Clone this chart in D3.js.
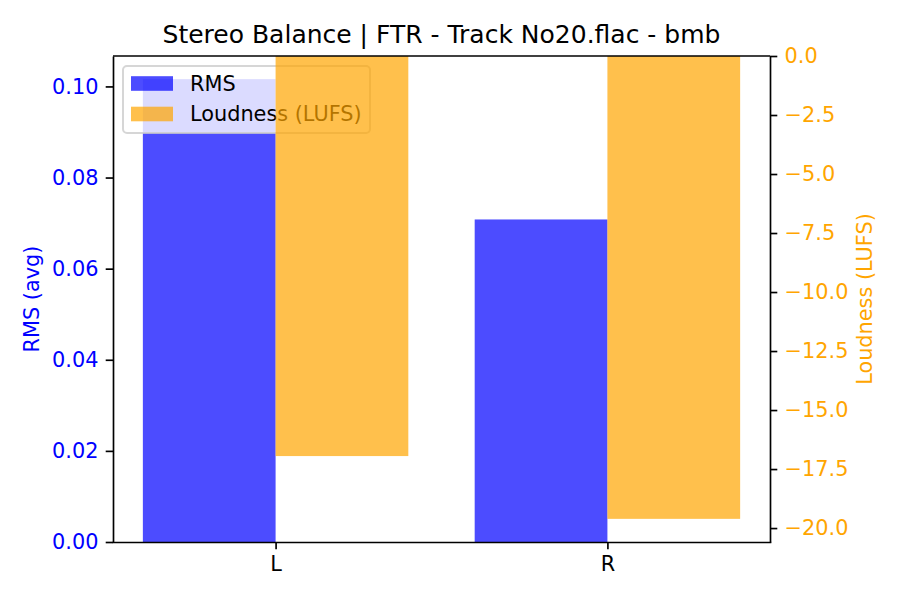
<!DOCTYPE html>
<html>
<head>
<meta charset="utf-8">
<script src="https://cdn.jsdelivr.net/npm/d3@7"></script>
<style>
  body { margin: 0; background: #fff; }
  text { font-family: "DejaVu Sans", sans-serif; }
  .axis path, .axis line { stroke: #000; stroke-width: 1.67px; }
</style>
</head>
<body>
<div id="chart"></div>
<script>
// data
var channels = ["L", "R"];
var rmsValues = [0.1016, 0.0708];
var lufsValues = [-16.95, -19.61];
var rmsTicks = [0, 0.02, 0.04, 0.06, 0.08, 0.10];
var lufsTicks = [0, -2.5, -5, -7.5, -10, -12.5, -15, -17.5, -20];
var titleText = "Stereo Balance | FTR - Track No20.flac - bmb";

var svgWidth = 900;
var svgHeight = 600;
var margin = { top: 56, right: 130, bottom: 58, left: 113 };
var width = svgWidth - margin.left - margin.right;
var height = svgHeight - margin.top - margin.bottom;

var fs = 20.83;
var tickLen = 7.3;

var svg = d3.select("#chart")
    .append("svg")
    .attr("width", svgWidth)
    .attr("height", svgHeight);

var chartGroup = svg.append("g")
    .attr("transform", `translate(${margin.left}, ${margin.top})`);

// scales (matplotlib-like 5% margins, bars stick to 0)
var barW = 0.4;
var xPad = (channels.length - 1 + 2 * barW) * 0.05;
var xScale = d3.scaleLinear()
    .domain([-barW - xPad, channels.length - 1 + barW + xPad])
    .range([0, width]);

var yLeft = d3.scaleLinear()
    .domain([0, d3.max(rmsValues) * 1.05])
    .range([height, 0]);

var yRight = d3.scaleLinear()
    .domain([d3.min(lufsValues) * 1.05, 0])
    .range([height, 0]);

// RMS bars
chartGroup.selectAll(".rms")
    .data(rmsValues)
    .enter()
    .append("rect")
    .attr("class", "rms")
    .attr("x", (d, i) => xScale(i - barW))
    .attr("width", (d, i) => xScale(i) - xScale(i - barW))
    .attr("y", d => yLeft(d))
    .attr("height", d => yLeft(0) - yLeft(d))
    .attr("fill", "blue")
    .attr("fill-opacity", 0.7);

// legend (belongs to left axes, so the right-axes bars go over it)
var legend = chartGroup.append("g")
    .attr("transform", "translate(10, 10)");

legend.append("rect")
    .attr("width", 247)
    .attr("height", 67)
    .attr("rx", 4)
    .attr("fill", "white")
    .attr("fill-opacity", 0.8)
    .attr("stroke", "#cccccc")
    .attr("stroke-opacity", 0.8)
    .attr("stroke-width", 2);

var legendItems = [
    { label: "RMS", color: "blue", y: 17.5 },
    { label: "Loudness (LUFS)", color: "orange", y: 48 }
];

legendItems.forEach(function(item) {
    legend.append("rect")
        .attr("x", 8)
        .attr("y", item.y - 7.3)
        .attr("width", 42)
        .attr("height", 14.6)
        .attr("fill", item.color)
        .attr("fill-opacity", 0.7);
    legend.append("text")
        .attr("x", 67)
        .attr("y", item.y)
        .attr("dy", "0.36em")
        .style("font-size", fs + "px")
        .attr("fill", "#000")
        .text(item.label);
});

// Loudness bars
chartGroup.selectAll(".lufs")
    .data(lufsValues)
    .enter()
    .append("rect")
    .attr("class", "lufs")
    .attr("x", (d, i) => xScale(i))
    .attr("width", (d, i) => xScale(i + barW) - xScale(i))
    .attr("y", yRight(0))
    .attr("height", d => yRight(d) - yRight(0))
    .attr("fill", "orange")
    .attr("fill-opacity", 0.7);

// axes
var bottomAxis = d3.axisBottom(xScale)
    .tickValues(d3.range(channels.length))
    .tickFormat(i => channels[i])
    .tickSizeInner(tickLen).tickSizeOuter(0).tickPadding(7.3);

var leftAxis = d3.axisLeft(yLeft)
    .tickValues(rmsTicks)
    .tickFormat(d3.format(".2f"))
    .tickSizeInner(tickLen).tickSizeOuter(0).tickPadding(7.3);

var rightAxis = d3.axisRight(yRight)
    .tickValues(lufsTicks)
    .tickFormat(d3.format(".1f"))
    .tickSizeInner(tickLen).tickSizeOuter(0).tickPadding(7.3);

var gx = chartGroup.append("g")
    .attr("class", "axis")
    .attr("transform", `translate(0,${height})`)
    .call(bottomAxis);
gx.selectAll("text").style("font-size", fs + "px").attr("fill", "#000");

var gl = chartGroup.append("g")
    .attr("class", "axis")
    .call(leftAxis);
gl.selectAll("text").style("font-size", fs + "px").attr("fill", "blue");

var gr = chartGroup.append("g")
    .attr("class", "axis")
    .attr("transform", `translate(${width},0)`)
    .call(rightAxis);
gr.selectAll("text").style("font-size", fs + "px").attr("fill", "orange");

// frame top line
chartGroup.append("line")
    .attr("x1", 0).attr("x2", width)
    .attr("y1", 0).attr("y2", 0)
    .attr("stroke", "#000")
    .attr("stroke-width", 1.67);
gx.select(".domain").attr("stroke-linecap", "square");

// axis labels
chartGroup.append("text")
    .attr("transform", `translate(${-73.7}, ${height / 2}) rotate(-90)`)
    .attr("text-anchor", "middle")
    .style("font-size", fs + "px")
    .attr("fill", "blue")
    .text("RMS (avg)");

chartGroup.append("text")
    .attr("transform", `translate(${width + 87}, ${height / 2}) rotate(-90)`)
    .attr("text-anchor", "middle")
    .attr("dy", "0.72em")
    .style("font-size", fs + "px")
    .attr("fill", "orange")
    .text("Loudness (LUFS)");

// title
svg.append("text")
    .attr("x", margin.left + width / 2)
    .attr("y", 43)
    .attr("text-anchor", "middle")
    .style("font-size", "25px")
    .attr("fill", "#000")
    .text(titleText);
</script>
</body>
</html>
